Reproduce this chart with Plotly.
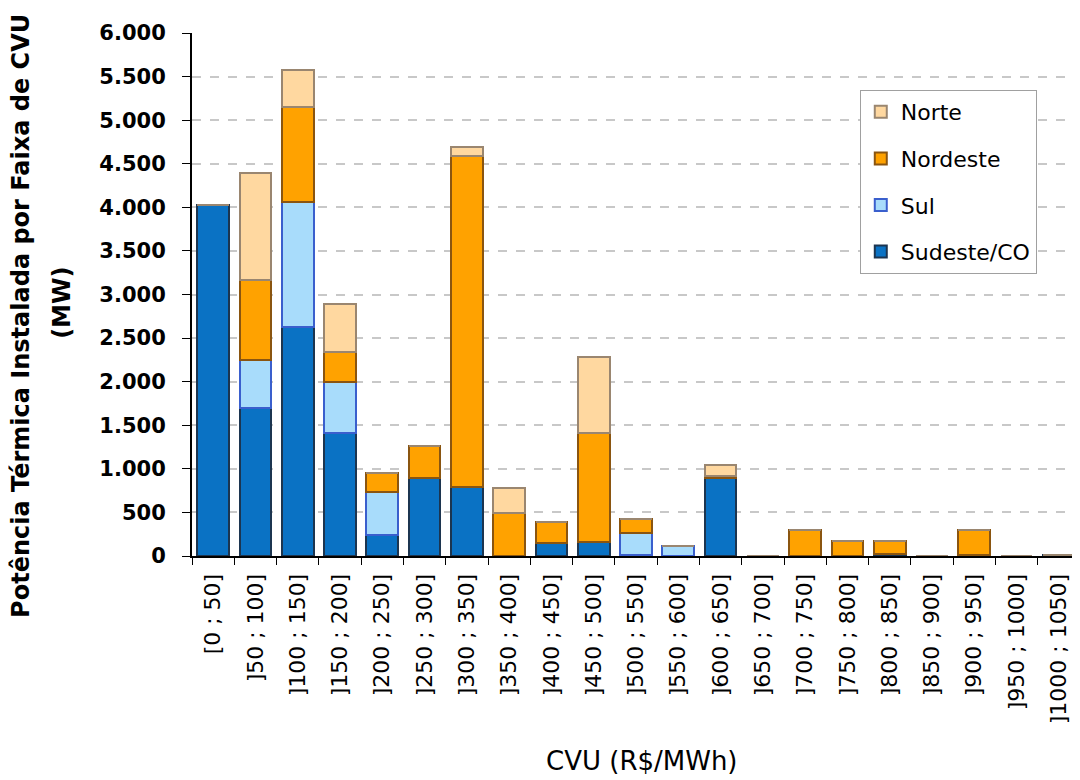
import plotly.graph_objects as go

categories = ["[0 ; 50]", "]50 ; 100]", "]100 ; 150]", "]150 ; 200]", "]200 ; 250]",
              "]250 ; 300]", "]300 ; 350]", "]350 ; 400]", "]400 ; 450]", "]450 ; 500]",
              "]500 ; 550]", "]550 ; 600]", "]600 ; 650]", "]650 ; 700]", "]700 ; 750]",
              "]750 ; 800]", "]800 ; 850]", "]850 ; 900]", "]900 ; 950]", "]950 ; 1000]",
              "]1000 ; 1050]"]

sudeste_co = [4030, 1700, 2630, 1410, 240, 895, 790, 0, 150, 160, 10, 0, 900, 0, 0, 0, 25, 0, 10, 0, 12]
sul = [0, 550, 1430, 585, 495, 0, 0, 0, 0, 0, 255, 110, 0, 0, 0, 0, 0, 0, 0, 0, 0]
nordeste = [0, 915, 1090, 345, 220, 365, 3800, 495, 240, 1250, 160, 0, 15, 0, 300, 170, 150, 0, 290, 0, 0]
norte = [0, 1230, 420, 550, 0, 0, 100, 285, 0, 870, 0, 0, 125, 0, 0, 0, 0, 0, 0, 0, 0]

y_tickvals = [0, 500, 1000, 1500, 2000, 2500, 3000, 3500, 4000, 4500, 5000, 5500, 6000]
y_ticktext = ["0", "500", "1.000", "1.500", "2.000", "2.500", "3.000", "3.500",
              "4.000", "4.500", "5.000", "5.500", "6.000"]

series = [
    ("Sudeste/CO", sudeste_co, "#0a72c4", "#1c3550", 4),
    ("Sul", sul, "#a8dcfb", "#3a5fcd", 3),
    ("Nordeste", nordeste, "#ffa200", "#8a5510", 2),
    ("Norte", norte, "#ffd8a0", "#9a8670", 1),
]

fig = go.Figure()
for name, vals, col, line, rank in series:
    fig.add_trace(go.Bar(
        x=categories, y=vals, name=name,
        marker=dict(color=col, line=dict(color=line, width=2)),
        legendgroup=name, legendrank=rank,
    ))

font = "DejaVu Sans, Liberation Sans, Arial, sans-serif"
fig.update_layout(
    barmode="stack",
    bargap=0.25,
    width=1072, height=772,
    margin=dict(l=184, r=0, t=25, b=224, autoexpand=False),
    paper_bgcolor="white", plot_bgcolor="white",
    font=dict(family=font, color="black"),
    showlegend=True,
    legend=dict(
        x=0.752, y=0.891, xanchor="left", yanchor="top",
        traceorder="grouped", tracegroupgap=15,
        bgcolor="white", bordercolor="#a0a0a0", borderwidth=1,
        font=dict(size=22, family=font, color="black"),
        itemwidth=30,
    ),
    xaxis=dict(
        type="category",
        automargin=False,
        tickangle=-90,
        tickfont=dict(size=22, family=font),
        showline=True, linecolor="black", linewidth=2,
        ticks="outside", tickson="boundaries", ticklen=7, tickcolor="black",
        ticklabelstandoff=7,
    ),
    yaxis=dict(
        range=[0, 6000],
        automargin=False,
        tickvals=y_tickvals, ticktext=y_ticktext,
        tickfont=dict(size=21, family=font, weight="bold"),
        showline=True, linecolor="black", linewidth=2,
        ticks="outside", ticklen=8, tickcolor="black",
        ticklabelstandoff=12,
        showgrid=True, gridcolor="#c8c8c8", gridwidth=2, griddash="dash",
        zeroline=False,
    ),
    annotations=[
        dict(text="Potência Térmica Instalada por Faixa de CVU",
             xref="paper", yref="paper", x=-0.1926, y=0.459,
             xanchor="center", yanchor="middle", textangle=-90, showarrow=False,
             font=dict(size=24, family=font, weight="bold")),
        dict(text="(MW)",
             xref="paper", yref="paper", x=-0.1464, y=0.484,
             xanchor="center", yanchor="middle", textangle=-90, showarrow=False,
             font=dict(size=24, family=font, weight="bold")),
        dict(text="CVU (R$/MWh)",
             xref="paper", yref="paper", x=0.507, y=-0.392,
             xanchor="center", yanchor="middle", showarrow=False,
             font=dict(size=26, family=font)),
    ],
)

fig.write_html("out.html")
